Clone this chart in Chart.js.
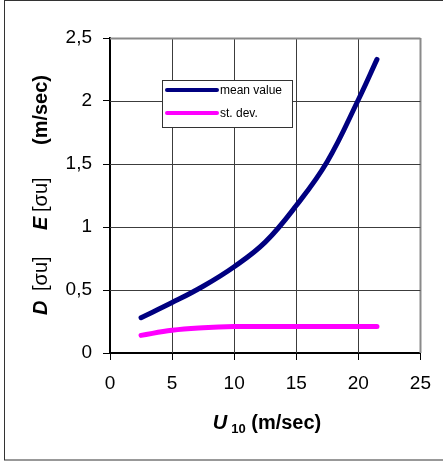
<!DOCTYPE html>
<html>
<head>
<meta charset="utf-8">
<script src="https://cdn.jsdelivr.net/npm/chart.js@4"></script>
<style>
  html, body { margin: 0; padding: 0; background: #fff; }
  #wrap { width: 443px; height: 463px; }
</style>
</head>
<body>
<div id="wrap"><canvas id="windChart" width="443" height="463"></canvas></div>
<script>
// values
const windSpeed = [2.5, 5, 7.5, 10, 12.5, 15, 17.5, 20, 21.5];
const meanValue = [0.28, 0.40, 0.53, 0.685, 0.88, 1.17, 1.52, 2.01, 2.33];
const stDev = [0.14, 0.18, 0.20, 0.21, 0.21, 0.21, 0.21, 0.21, 0.21];
const seriesNames = ['mean value', 'st. dev.'];
const seriesColors = ['#000080', '#ff00ff'];
const xTicks = [0, 5, 10, 15, 20, 25];
const yTicks = [0, 0.5, 1, 1.5, 2, 2.5];

const FONT = 'Arial, "Liberation Sans", sans-serif';

function toPoints(xs, ys) {
  return xs.map((x, i) => ({ x: x, y: ys[i] }));
}

// grid lines from the scales' ticks: inner ones dark, outer edge grey
const plotGrid = {
  id: 'plotGrid',
  beforeDatasetsDraw(chart) {
    const ctx = chart.ctx;
    const area = chart.chartArea;
    const sx = chart.scales.x, sy = chart.scales.y;
    ctx.save();
    sx.ticks.forEach((t, i) => {
      if (i === 0) return;
      const px = Math.round(sx.getPixelForValue(t.value)) + 0.5;
      const last = i === sx.ticks.length - 1;
      ctx.strokeStyle = last ? '#8a8a8a' : '#3c3c3c';
      ctx.lineWidth = last ? 2 : 1;
      ctx.beginPath();
      ctx.moveTo(px, area.top);
      ctx.lineTo(px, area.bottom);
      ctx.stroke();
    });
    sy.ticks.forEach((t, i) => {
      if (i === 0) return;
      const py = Math.round(sy.getPixelForValue(t.value)) + 0.5;
      const last = i === sy.ticks.length - 1;
      ctx.strokeStyle = last ? '#8a8a8a' : '#3c3c3c';
      ctx.lineWidth = last ? 2 : 1;
      ctx.beginPath();
      ctx.moveTo(area.left, py);
      ctx.lineTo(area.right, py);
      ctx.stroke();
    });
    ctx.restore();
  }
};

// frame, axis titles and the boxed legend inside the plot
const decorations = {
  id: 'decorations',
  afterDraw(chart) {
    const ctx = chart.ctx;
    ctx.save();
    ctx.strokeStyle = '#333';
    ctx.lineWidth = 1;
    ctx.strokeRect(4.5, 0.5, chart.width + 10, 459.5);

    ctx.fillStyle = '#000';
    ctx.textBaseline = 'alphabetic';
    ctx.textAlign = 'left';

    // x title: U10 (m/sec)
    const parts = [
      { t: 'U', f: 'italic bold 20px ' + FONT, dy: 0, gap: 4 },
      { t: '10', f: 'bold 13px ' + FONT, dy: 4, gap: 0 },
      { t: ' (m/sec)', f: 'bold 20px ' + FONT, dy: 0, gap: 0 }
    ];
    let total = 0;
    parts.forEach(p => { ctx.font = p.f; p.w = ctx.measureText(p.t).width; total += p.w + p.gap; });
    let x = 267 - total / 2;
    parts.forEach(p => {
      ctx.font = p.f;
      ctx.fillText(p.t, x, 429 + p.dy);
      x += p.w + p.gap;
    });

    // y title, rotated
    ctx.save();
    ctx.translate(40, 315);
    ctx.rotate(-Math.PI / 2);
    const yParts = [
      { t: 'D', f: 'italic bold 20px ' + FONT, at: 0 },
      { t: '[σu]', f: '20px ' + FONT, at: 24 },
      { t: 'E', f: 'italic bold 20px ' + FONT, at: 85 },
      { t: '[σu]', f: '20px ' + FONT, at: 103 },
      { t: '(m/sec)', f: 'bold 20px ' + FONT, at: 170 }
    ];
    yParts.forEach(p => {
      ctx.font = p.f;
      ctx.fillText(p.t, p.at, 7);
    });
    ctx.restore();

    // legend
    const bx = 162, by = 80, bw = 130, bh = 47;
    ctx.fillStyle = '#fff';
    ctx.fillRect(bx, by, bw, bh);
    ctx.strokeStyle = '#333';
    ctx.lineWidth = 1;
    ctx.strokeRect(bx + 0.5, by + 0.5, bw, bh);
    ctx.font = '12px ' + FONT;
    ctx.textBaseline = 'middle';
    chart.data.datasets.forEach((ds, i) => {
      const ly = 90 + i * 23;
      ctx.strokeStyle = ds.borderColor;
      ctx.lineWidth = 4;
      ctx.lineCap = 'round';
      ctx.beginPath();
      ctx.moveTo(167, ly);
      ctx.lineTo(217, ly);
      ctx.stroke();
      ctx.fillStyle = '#000';
      ctx.fillText(ds.label, 220, ly + 1);
    });
    ctx.restore();
  }
};

const chart = new Chart(document.getElementById('windChart').getContext('2d'), {
  type: 'line',
  data: {
    datasets: [
      {
        label: seriesNames[0],
        data: toPoints(windSpeed, meanValue),
        borderColor: seriesColors[0],
        borderWidth: 5,
        borderCapStyle: 'round',
        pointRadius: 0,
        tension: 0.4
      },
      {
        label: seriesNames[1],
        data: toPoints(windSpeed, stDev),
        borderColor: seriesColors[1],
        borderWidth: 5,
        borderCapStyle: 'round',
        pointRadius: 0,
        tension: 0.4
      }
    ]
  },
  options: {
    responsive: false,
    animation: false,
    devicePixelRatio: 1,
    layout: { padding: { top: 38, right: 20, left: 0, bottom: 0 } },
    plugins: {
      legend: { display: false },
      tooltip: { enabled: false }
    },
    scales: {
      x: {
        type: 'linear',
        min: xTicks[0],
        max: xTicks[xTicks.length - 1],
        afterBuildTicks: s => { s.ticks = xTicks.map(v => ({ value: v })); },
        afterFit: s => { s.height = 110; },
        ticks: {
          color: '#000',
          font: { family: FONT, size: 19 },
          padding: 12,
          maxRotation: 0
        },
        grid: {
          color: '#000',
          drawOnChartArea: false,
          tickLength: 7
        },
        border: { color: '#000', width: 2 }
      },
      y: {
        type: 'linear',
        min: yTicks[0],
        max: yTicks[yTicks.length - 1],
        afterBuildTicks: s => { s.ticks = yTicks.map(v => ({ value: v })); },
        afterFit: s => { s.width = 110; },
        ticks: {
          color: '#000',
          font: { family: FONT, size: 19 },
          padding: 11,
          callback: v => String(v).replace('.', ',')
        },
        grid: {
          color: '#000',
          drawOnChartArea: false,
          tickLength: 7
        },
        border: { color: '#000', width: 2 }
      }
    }
  },
  plugins: [plotGrid, decorations]
});
</script>
</body>
</html>
